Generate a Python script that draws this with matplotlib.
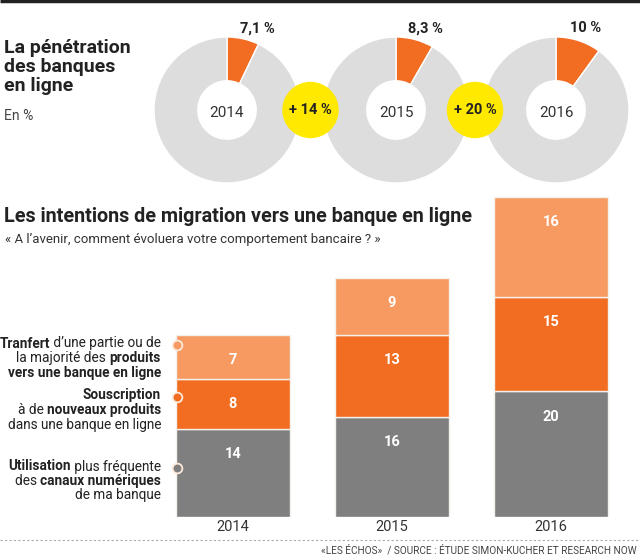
import matplotlib
matplotlib.use("Agg")
import matplotlib.pyplot as plt
from matplotlib.patches import Circle

plt.rcParams['font.family'] = ['Roboto', 'DejaVu Sans']

# ---------------- data ----------------
years = ["2014", "2015", "2016"]
penetration = [7.1, 8.3, 10.0]
penetration_labels = ["7,1 %", "8,3 %", "10 %"]
growth_labels = ["+ 14 %", "+ 20 %"]

usage = [14, 16, 20]          # Utilisation plus fréquente des canaux numériques
subscription = [8, 13, 15]    # Souscription à de nouveaux produits
transfer = [7, 9, 16]         # Tranfert d'une partie des produits

# ---------------- style ----------------
ORANGE = "#F26C22"
LIGHT_ORANGE = "#F79A62"
GRAY = "#7F7F7F"
DONUT_GRAY = "#DDDDDD"
YELLOW = "#FFE900"
DARK = "#222222"

W, H = 640, 558
fig = plt.figure(figsize=(W / 100, H / 100), dpi=100)
fig.patch.set_facecolor("white")


def px_axes(x0, y0, x1, y1):
    return fig.add_axes([x0 / W, 1 - y1 / H, (x1 - x0) / W, (y1 - y0) / H])


# ---------------- donuts ----------------
donut_cx = [227, 396, 556]
donut_cy = 110
R = 73
for cx, v, lab, yr in zip(donut_cx, penetration, penetration_labels, years):
    ax = px_axes(cx - R, donut_cy - R, cx + R, donut_cy + R)
    ax.pie([v, 100 - v], colors=[ORANGE, DONUT_GRAY], startangle=90,
           counterclock=False, radius=1,
           wedgeprops=dict(width=0.6, edgecolor="white", linewidth=1.0))
    ax.set_xlim(-1, 1)
    ax.set_ylim(-1, 1)
    ax.set_aspect("equal")
    ax.axis("off")
    ax.text(0, -0.04, yr, ha="center", va="center", fontsize=11, color="#333333")
    ax.text(0.41, 1.12, lab, ha="center", va="center", fontsize=10.5,
            fontweight="bold", color=DARK)

# ---------------- stacked bars ----------------
bx = px_axes(150, 190, 630, 517)
x = list(range(len(years)))
bar_w = 0.711
series = [(usage, GRAY), (subscription, ORANGE), (transfer, LIGHT_ORANGE)]
bottom = [0] * len(years)
for vals, col in series:
    bx.bar(x, vals, bottom=bottom, width=bar_w, color=col,
           edgecolor="#F4F1EC", linewidth=1.0)
    for xi, b, v in zip(x, bottom, vals):
        bx.text(xi, b + v - 4.0, str(v), ha="center", va="center",
                fontsize=10.5, fontweight="bold", color="#FFFFFF")
    bottom = [b + v for b, v in zip(bottom, vals)]
for xi, yr in zip(x, years):
    bx.text(xi, -1.6, yr, ha="center", va="center", fontsize=10.5, color="#333333")
bx.set_xlim((150 - 233) / 159, (630 - 233) / 159)
bx.set_ylim(0, (517 - 190) / 6.28)
bx.axis("off")

# ---------------- overlay (text, circles) ----------------
ov = fig.add_axes([0, 0, 1, 1])
ov.set_xlim(0, W)
ov.set_ylim(H, 0)
ov.axis("off")

# top rule
ov.plot([0, W], [1, 1], color=DARK, lw=2.5, solid_capstyle="butt")

# growth bubbles
for i, g in enumerate(growth_labels):
    mx = (donut_cx[i] + donut_cx[i + 1]) / 2 - 1
    ov.add_patch(Circle((mx, donut_cy), 27.5, color=YELLOW, zorder=5))
    ov.text(mx, donut_cy, g, ha="center", va="center", fontsize=10.5,
            fontweight="bold", color=DARK, zorder=6)

# titles
ov.text(4, 39, "La pénétration\ndes banques\nen ligne", ha="left", va="top",
        fontsize=14, fontweight="bold", color=DARK, linespacing=1.08)
ov.text(4, 116, "En %", ha="left", va="center", fontsize=10, color="#444444")
ov.text(4, 216, "Les intentions de migration vers une banque en ligne",
        ha="left", va="center", fontsize=14.2, fontweight="bold", color=DARK)
ov.text(5, 240, "« A l’avenir, comment évoluera votre comportement bancaire ? »",
        ha="left", va="center", fontsize=9.5, color="#333333")

# legend with mixed bold text, right aligned
renderer = fig.canvas.get_renderer()
legend_groups = [
    [[("Tranfert", True), (" d’une partie ou de", False)],
     [("la majorité des ", False), ("produits", True)],
     [("vers une banque en ligne", True)]],
    [[("Souscription", True)],
     [("à de ", False), ("nouveaux produits", True)],
     [("dans une banque en ligne", False)]],
    [[("Utilisation", True), (" plus fréquente", False)],
     [("des ", False), ("canaux numériques", True)],
     [("de ma banque", False)]],
]
legend_first_y = [343, 395, 466]
legend_colors = [LIGHT_ORANGE, ORANGE, GRAY]
line_h = 14.5
right_x = 161
for g, y0, col in zip(legend_groups, legend_first_y, legend_colors):
    for li, pieces in enumerate(g):
        yb = y0 + li * line_h + 4.5
        xr = right_x
        for txt, bold in reversed(pieces):
            t = ov.text(xr, yb, txt, ha="right", va="baseline", fontsize=9.8,
                        fontweight="bold" if bold else "normal", color=DARK)
            w = t.get_window_extent(renderer=renderer).width
            xr -= w
    ov.plot([177], [y0 + 2], marker="o", markersize=7, markerfacecolor=col,
            markeredgecolor="#FBE9DC", markeredgewidth=1.3, zorder=8,
            clip_on=False)

# footer
ov.plot([0, W], [540, 540], color="#AAAAAA", lw=0.8, ls=(0, (2, 2)))
ov.text(637, 550, "«LES ÉCHOS»  / SOURCE : ÉTUDE SIMON-KUCHER ET RESEARCH NOW",
        ha="right", va="center", fontsize=7.2, color="#444444")

fig.savefig("out.png", dpi=100, facecolor="white")
